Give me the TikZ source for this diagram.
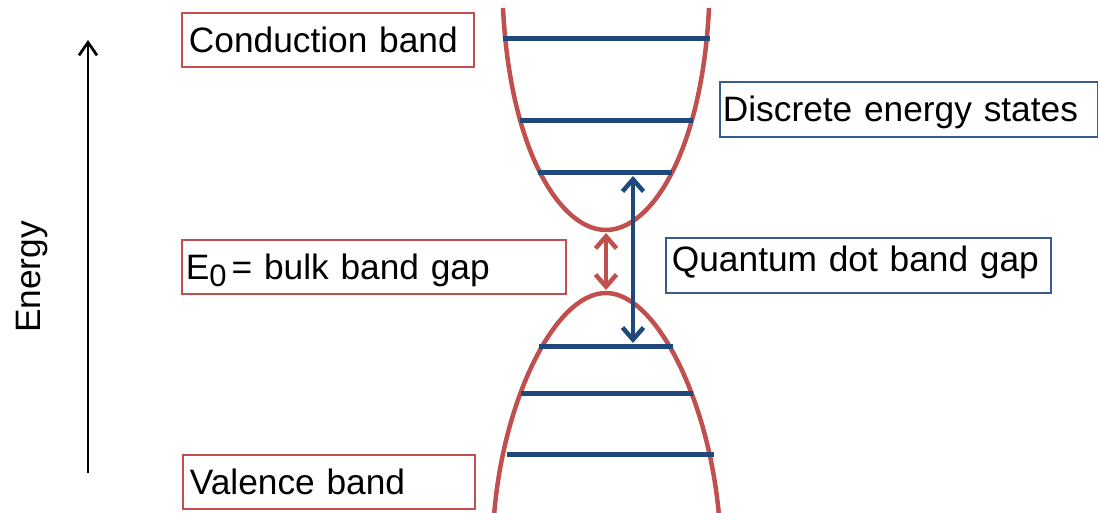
\documentclass[tikz,border=0pt]{standalone}
\usepackage{fontspec}
\setmainfont{Liberation Sans}
\usetikzlibrary{arrows.meta}
\definecolor{bandred}{RGB}{192,80,77}
\definecolor{levelblue}{RGB}{31,73,125}
\definecolor{boxblue}{RGB}{56,93,138}

\begin{document}
\begin{tikzpicture}[x=1pt, y=-1pt,
    bigfont/.style={font=\fontsize{35.3}{40}\selectfont},
    lbl/.style={bigfont, anchor=north west, line width=1.8pt, minimum height=54pt,
      inner ysep=0pt, text height=25pt, text depth=0pt, align=left},
    redbox/.style={lbl, draw=bandred},
    bluebox/.style={lbl, draw=boxblue},
    band/.style={bandred, line width=4.5pt},
    level/.style={levelblue, line width=5pt},
    gaparrow/.style={line width=4.5pt,
      {Straight Barb[length=12pt,width=21pt]}-{Straight Barb[length=12pt,width=21pt]}}]
    \useasboundingbox (0,0) rectangle (1098,513);

    % energy axis
    \coordinate (ebot) at (88,473);
    \coordinate (etop) at (88,40);
    \draw[line width=2.7pt, -{Straight Barb[length=13pt,width=18pt]}] (ebot) -- (etop);
    \node[bigfont, rotate=90, anchor=base] (energy) at (40,277) {Energy};

    % conduction and valence band edges
    \draw[band] (503,8) .. controls (510,150) and (560,230) .. (606,230)
      .. controls (652,230) and (702,150) .. (709,8);
    \draw[band] (494,516) .. controls (503,400) and (555,293) .. (606,293)
      .. controls (656,293) and (709,400) .. (719,516);

    % discrete levels
    \draw[level] (503,39) -- (710,39);
    \draw[level] (520,121) -- (693,121);
    \draw[level] (538,173) -- (672,173);
    \draw[level] (539,346) -- (673,346);
    \draw[level] (521,393) -- (693,393);
    \draw[level] (507,454) -- (714,454);

    % gaps
    \coordinate (cmin) at (606,233);
    \coordinate (vmax) at (606,290);
    \coordinate (clow) at (633,176);
    \coordinate (vhigh) at (633,343);
    \draw[gaparrow, bandred] (cmin) -- (vmax);
    \draw[gaparrow, levelblue] (clow) -- (vhigh);

    % labels
    \node[redbox, text width=278pt, inner xsep=7pt] (cb) at (181,12) {Conduction band};
    \node[redbox, text width=376pt, inner xsep=4pt] (bulk) at (181,239)
      {E\raisebox{-7pt}{\fontsize{31}{31}\selectfont 0}\hspace{5pt}= bulk band gap};
    \node[redbox, text width=278pt, inner xsep=7pt] (vb) at (182,454) {Valence band};
    \node[bluebox, text width=372pt, inner xsep=3pt, minimum height=55pt] (states) at (719,81)
      {Discrete energy states};
    \node[bluebox, text width=373pt, inner xsep=6pt, minimum height=55pt, text depth=12pt] (qd) at (665,237)
      {Quantum dot band gap};
\end{tikzpicture}
\end{document}
